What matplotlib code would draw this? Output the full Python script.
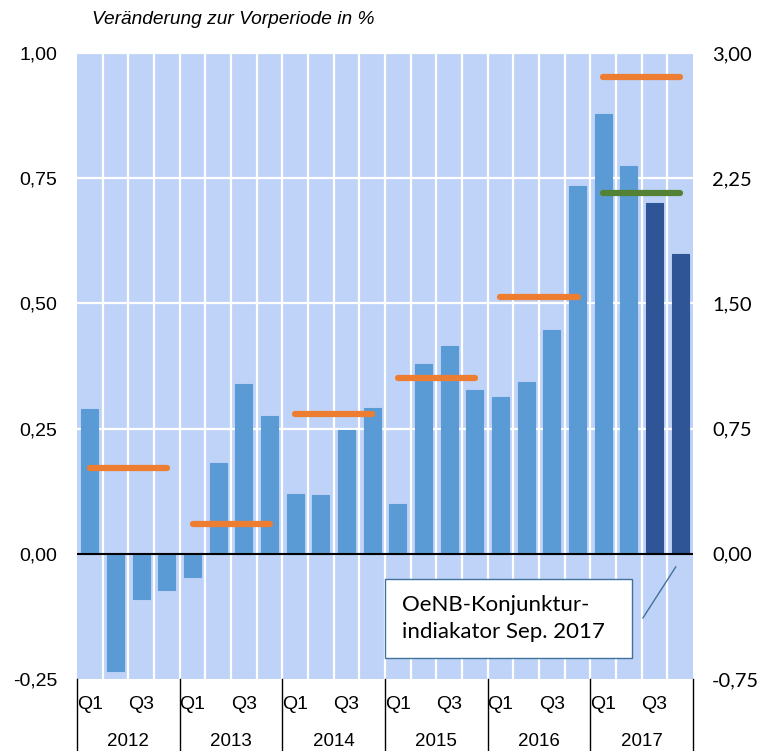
import matplotlib.pyplot as plt
from matplotlib.patches import Rectangle
import numpy as np

# data
years = ["2012", "2013", "2014", "2015", "2016", "2017"]
quarters = ["Q1", "Q2", "Q3", "Q4"]
qoq = [0.29, -0.234, -0.09, -0.072,
       -0.046, 0.182, 0.34, 0.276,
       0.12, 0.118, 0.248, 0.292,
       0.10, 0.378, 0.414, 0.328,
       0.314, 0.344, 0.446, 0.734,
       0.878, 0.774, 0.70, 0.598]
n_forecast = 2
annual = [0.516, 0.18, 0.84, 1.056, 1.536, 2.856]   # right axis
oenb_2017 = 2.16                                   # right axis
left_ticks = [-0.25, 0.0, 0.25, 0.5, 0.75, 1.0]
right_ticks = [-0.75, 0.0, 0.75, 1.5, 2.25, 3.0]

BG = '#BFD3F8'
BAR = '#5B9BD5'
BAR_FC = '#2F5597'
ORANGE = '#ED7D31'
GREEN = '#548235'
FONT = 'Liberation Sans'

plt.rcParams['font.family'] = [FONT, 'DejaVu Sans']

fig = plt.figure(figsize=(7.6, 7.51), dpi=100)
ax = fig.add_axes([77/760, 1-679/751, 616/760, 626/751])
n = len(qoq)
x = np.arange(n)

ax.set_facecolor(BG)
ax.set_xlim(-0.5, n-0.5)
ax.set_ylim(left_ticks[0], left_ticks[-1])
for i in range(n-1):
    ax.axvline(i+0.5, color='white', lw=1.6, zorder=1)
for t in left_ticks[2:]:
    ax.axhline(t, color='white', lw=1.6, zorder=1)

colors = [BAR]*(n-n_forecast) + [BAR_FC]*n_forecast
ax.bar(x, qoq, width=0.65, color=colors, edgecolor=colors, lw=0.8, zorder=2)
ax.axhline(0, color='black', lw=1.5, zorder=3)

ax.set_yticks(left_ticks)
ax.set_yticklabels([f"{t:.2f}".replace('.', ',') for t in left_ticks])
ax.tick_params(axis='y', length=0, pad=14.4, labelsize=14)
ax.set_xticks([])
for s in ax.spines.values():
    s.set_visible(False)

# category axis: Q1/Q3 labels, years, separators
tr = ax.get_xaxis_transform()
for i in range(n):
    q = quarters[i % 4]
    if q in ("Q1", "Q3"):
        ax.text(i, -0.040, q, transform=tr, ha='center', va='center', fontsize=14)
for k, yr in enumerate(years):
    ax.text(4*k+1.5, -0.100, yr, transform=tr, ha='center', va='center', fontsize=13.5)
for k in range(len(years)+1):
    ax.plot([4*k-0.5, 4*k-0.5], [0, -0.12], transform=tr, color='black', lw=1, clip_on=False)

# annual averages on right axis
ax2 = ax.twinx()
ax2.set_ylim(right_ticks[0], right_ticks[-1])
for k, v in enumerate(annual):
    ax2.plot([4*k, 4*k+3], [v, v], color=ORANGE, lw=4.5, solid_capstyle='round', zorder=4)
ax2.plot([4*5, 4*5+3], [oenb_2017, oenb_2017], color=GREEN, lw=4.5, solid_capstyle='round', zorder=4)
ax2.set_yticks(right_ticks)
ax2.set_yticklabels([f"{t:.2f}".replace('.', ',') for t in right_ticks], family=['Lato', 'DejaVu Sans'])
ax2.tick_params(axis='y', length=0, pad=13.7, labelsize=14.5)
for s in ax2.spines.values():
    s.set_visible(False)

# annotation box
ax.add_patch(Rectangle((11.5, -0.208), 9.62, 0.158, facecolor='white',
                       edgecolor='#41719C', lw=1, zorder=5))
ax.text(12.15, -0.129, "OeNB-Konjunktur-\nindiakator Sep. 2017", ha='left', va='center',
        fontsize=16, family=['Lato', 'DejaVu Sans'], linespacing=1.45, zorder=6)
ax.plot([21.55, 22.83], [-0.128, -0.026], color='#41719C', lw=1, zorder=5)

fig.text(92/760, 1-20/751, "Veränderung zur Vorperiode in %", ha='left', va='center',
         fontsize=13.8, style='italic')

fig.savefig('out.png', dpi=100)
